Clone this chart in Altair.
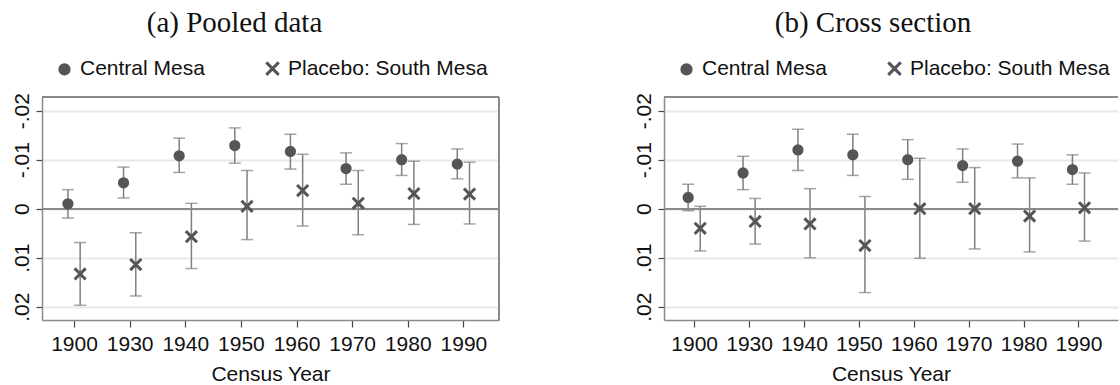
import altair as alt
import pandas as pd

years = ["1900", "1930", "1940", "1950", "1960", "1970", "1980", "1990"]
series_names = ["Central Mesa", "Placebo: South Mesa"]

# (a) Pooled data
a_central = [-0.0010, -0.0053, -0.0108, -0.0129, -0.0117, -0.0082, -0.0100, -0.0091]
a_central_lo = [-0.0039, -0.0085, -0.0144, -0.0165, -0.0152, -0.0114, -0.0133, -0.0122]
a_central_hi = [0.0019, -0.0022, -0.0074, -0.0093, -0.0081, -0.0050, -0.0068, -0.0061]
a_placebo = [0.0133, 0.0114, 0.0057, -0.0005, -0.0037, -0.0011, -0.0031, -0.0030]
a_placebo_lo = [0.0069, 0.0049, -0.0011, -0.0078, -0.0111, -0.0078, -0.0097, -0.0095]
a_placebo_hi = [0.0197, 0.0178, 0.0122, 0.0063, 0.0035, 0.0053, 0.0032, 0.0031]

# (b) Cross section
b_central = [-0.0023, -0.0073, -0.0120, -0.0110, -0.0100, -0.0088, -0.0097, -0.0080]
b_central_lo = [-0.0050, -0.0107, -0.0162, -0.0152, -0.0141, -0.0122, -0.0132, -0.0110]
b_central_hi = [0.0004, -0.0039, -0.0078, -0.0068, -0.0060, -0.0054, -0.0063, -0.0050]
b_placebo = [0.0040, 0.0026, 0.0031, 0.0075, 0.0000, 0.0000, 0.0015, -0.0002]
b_placebo_lo = [-0.0005, -0.0021, -0.0041, -0.0025, -0.0103, -0.0084, -0.0063, -0.0073]
b_placebo_hi = [0.0086, 0.0072, 0.0100, 0.0171, 0.0101, 0.0082, 0.0088, 0.0066]

y_ticks = [-0.02, -0.01, 0, 0.01, 0.02]

MARK = "#555555"
BAR = "#7f7f7f"
FRAME = "#8a8a8a"
GRID = "#e8e8e8"
SANS = "Liberation Sans"
SERIF = "Liberation Serif"
XPATH = "M-1.35,-1.35L1.35,1.35M1.35,-1.35L-1.35,1.35"


def make_df(c, c_lo, c_hi, p, p_lo, p_hi):
    rows = []
    for i, yr in enumerate(years):
        rows.append(dict(idx=i, year=yr, series=series_names[0], est=c[i], lo=c_lo[i], hi=c_hi[i]))
        rows.append(dict(idx=i, year=yr, series=series_names[1], est=p[i], lo=p_lo[i], hi=p_hi[i]))
    return pd.DataFrame(rows)


label_expr = "[" + ",".join(f"'{y}'" for y in years) + "][datum.value]"
y_label_expr = ("datum.value == 0 ? '0' : "
                "replace(replace(format(datum.value, '.2f'), '0.', '.'), '\u2212', '-')")


def panel(df, title, width, height, xdom, title_dx, right_frame):
    ydom = [-0.0228, 0.0227]
    base = alt.Chart(df).transform_calculate(
        xpos="datum.idx + (datum.series == 'Central Mesa' ? -0.11 : 0.11)"
    )
    xs = alt.Scale(domain=xdom, nice=False, zero=False)
    ys = alt.Scale(domain=ydom, reverse=True, nice=False, zero=False)
    xaxis = alt.Axis(values=list(range(len(years))), labelExpr=label_expr, title="Census Year",
                     grid=False, tickSize=7, tickColor="#444444", tickWidth=1.2,
                     domainColor=FRAME, domainWidth=1.5, labelFont=SANS, labelFontSize=21,
                     labelColor="#111111", labelPadding=6, titleFont=SANS, titleFontSize=21,
                     titleFontWeight="normal", titleColor="#111111", titlePadding=9)
    yaxis = alt.Axis(values=y_ticks, labelExpr=y_label_expr, title=None, grid=True,
                     gridColor=GRID, gridWidth=2, tickSize=6, tickColor="#444444", tickWidth=1.2,
                     domainColor=FRAME, domainWidth=1.5, labelFont=SANS, labelFontSize=21,
                     labelColor="#111111", labelAngle=-90, labelPadding=4)

    bars = base.mark_rule(color=BAR, strokeWidth=1.5).encode(
        x=alt.X("xpos:Q", scale=xs, axis=xaxis),
        y=alt.Y("lo:Q", scale=ys, axis=yaxis),
        y2="hi:Q",
    )
    zero_line = alt.Chart(df).mark_rule(color=FRAME, strokeWidth=1.5).encode(
        y=alt.datum(0), x=alt.value(0), x2=alt.value(width)
    )
    cap_lo = base.mark_tick(orient="horizontal", size=12, thickness=1.5, color=BAR).encode(
        x="xpos:Q", y="lo:Q")
    cap_hi = base.mark_tick(orient="horizontal", size=12, thickness=1.5, color=BAR).encode(
        x="xpos:Q", y="hi:Q")
    leg = alt.Legend(orient="none", legendX=12, legendY=-39, direction="horizontal", title=None,
                     labelFont=SANS, labelFontSize=21, labelColor="#111111", labelOffset=5,
                     columnPadding=55, padding=0, symbolSize=85, symbolStrokeWidth=3,
                     symbolOpacity=1, labelLimit=400)
    pts = base.mark_point(strokeWidth=3, size=68, opacity=1).encode(
        x="xpos:Q", y="est:Q",
        shape=alt.Shape("series:N", scale=alt.Scale(domain=series_names, range=["circle", XPATH]),
                        legend=leg),
        fill=alt.Fill("series:N", scale=alt.Scale(domain=series_names, range=[MARK, "transparent"]),
                      legend=leg),
        stroke=alt.Stroke("series:N", scale=alt.Scale(domain=series_names, range=[MARK, MARK]),
                          legend=leg),
    )
    top = alt.Chart(df).mark_rule(color=FRAME, strokeWidth=1.5).encode(
        x=alt.value(0), x2=alt.value(width), y=alt.value(0))
    layers = [bars, zero_line, cap_lo, cap_hi, pts, top]
    if right_frame:
        layers.append(alt.Chart(df).mark_rule(color=FRAME, strokeWidth=1.5).encode(
            x=alt.value(width), y=alt.value(0), y2=alt.value(height)))
    return alt.layer(*layers).properties(
        width=width, height=height,
        title=alt.TitleParams(title, font=SERIF, fontSize=29, fontWeight="normal", color="#111111",
                              anchor="middle", frame="group", dx=title_dx, offset=20),
    )


df_a = make_df(a_central, a_central_lo, a_central_hi, a_placebo, a_placebo_lo, a_placebo_hi)
df_b = make_df(b_central, b_central_lo, b_central_hi, b_placebo, b_placebo_lo, b_placebo_hi)

pa = panel(df_a, "(a) Pooled data", 457, 223, [-0.576, 7.64], -36, True)
pb = panel(df_b, "(b) Cross section", 454, 223, [-0.55, 7.72], -18, False)

chart = alt.hconcat(pa, pb, spacing=132).resolve_legend(
    shape="independent", fill="independent", stroke="independent"
).properties(
    padding={"left": 10, "top": 9, "right": 0, "bottom": 0},
    background="white",
).configure_view(strokeWidth=0).configure_legend(
    labelFont=SANS, labelFontSize=21, labelColor="#111111", symbolStrokeWidth=3,
    symbolSize=85, labelLimit=400
)

chart.save("out.html", embed_options={"renderer": "svg", "actions": False})
